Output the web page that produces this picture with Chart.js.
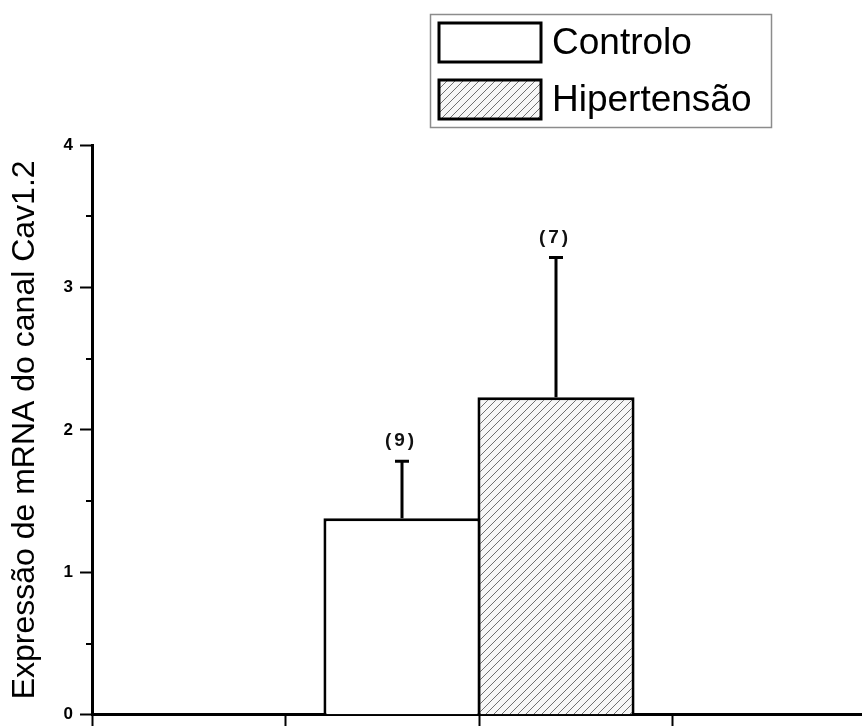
<!DOCTYPE html>
<html>
<head>
<meta charset="utf-8">
<script src="https://cdn.jsdelivr.net/npm/chart.js@4.4.1/dist/chart.umd.min.js"></script>
<style>
  html, body { margin: 0; padding: 0; background: #fff; overflow: hidden; }
  #wrap { width: 862px; height: 726px; overflow: hidden; position: relative; }
  canvas { display: block; }
</style>
</head>
<body>
<div id="wrap"><canvas id="c" width="870" height="732"></canvas></div>
<script>
// Groups, mean expression, error (SD) and sample size per group
const groups = ['Controlo', 'Hipertensão'];
const means = [1.38, 2.23];
const errors = [0.40, 0.98];
const sampleSizes = [9, 7];
// Both bars sit side by side around one position on the x axis
const groupX = [2, 2];
const xTicks = [0, 1, 2, 3, 4];
const yTicks = [0, 1, 2, 3, 4];
const yTitle = 'Expressão de mRNA do canal Cav1.2';

const FONT = "'Liberation Sans', Arial, Helvetica, sans-serif";

// Diagonal hatch fill
function makeHatch() {
  const s = 8;
  const p = document.createElement('canvas');
  p.width = s; p.height = s;
  const g = p.getContext('2d');
  g.fillStyle = '#f7f7f7';
  g.fillRect(0, 0, s, s);
  g.strokeStyle = '#707070';
  g.lineWidth = 1;
  g.beginPath();
  g.moveTo(0, s); g.lineTo(s, 0);
  g.moveTo(-2, 2); g.lineTo(2, -2);
  g.moveTo(s - 2, s + 2); g.lineTo(s + 2, s - 2);
  g.stroke();
  return g.createPattern(p, 'repeat');
}
const ctx = document.getElementById('c').getContext('2d');
const hatch = makeHatch();
const fills = ['#ffffff', hatch];

// Short minor ticks half-way between the labelled y ticks
const minorTicks = {
  id: 'minorTicks',
  afterDraw(chart) {
    const y = chart.scales.y;
    const left = chart.chartArea.left;
    const c = chart.ctx;
    c.save();
    c.strokeStyle = '#000';
    c.lineWidth = 2;
    for (let i = 0; i < yTicks.length - 1; i++) {
      const py = Math.round(y.getPixelForValue((yTicks[i] + yTicks[i + 1]) / 2));
      c.beginPath();
      c.moveTo(left - 6, py);
      c.lineTo(left, py);
      c.stroke();
    }
    c.restore();
  }
};

// Error bars with caps and the sample size above each one
const errorBars = {
  id: 'errorBars',
  afterDatasetsDraw(chart) {
    const c = chart.ctx;
    const yScale = chart.scales.y;
    c.save();
    chart.data.datasets.forEach((ds, i) => {
      const bar = chart.getDatasetMeta(i).data[0];
      const x = Math.round(bar.x);
      const yTop = yScale.getPixelForValue(means[i] + errors[i]);
      c.strokeStyle = '#000';
      c.lineWidth = 3;
      c.beginPath();
      c.moveTo(x, bar.y);
      c.lineTo(x, yTop);
      c.moveTo(x - 7, yTop);
      c.lineTo(x + 7, yTop);
      c.stroke();
      c.fillStyle = '#111';
      c.font = 'bold 19px ' + FONT;
      c.letterSpacing = '3px';
      c.textAlign = 'center';
      c.textBaseline = 'middle';
      c.fillText('(' + sampleSizes[i] + ')', x - 1, yTop - 20);
    });
    c.restore();
  }
};

// Framed legend in the upper right
const legendBox = {
  id: 'legendBox',
  afterDraw(chart) {
    const c = chart.ctx;
    const bx = 430, by = 14, bw = 341, bh = 113;
    c.save();
    c.strokeStyle = '#8c8c8c';
    c.lineWidth = 1.5;
    c.strokeRect(bx + 0.5, by + 0.5, bw, bh);
    chart.data.datasets.forEach((ds, i) => {
      const sx = bx + 9, sy = by + 9 + i * 57, sw = 102, sh = 39;
      c.fillStyle = ds.backgroundColor;
      c.fillRect(sx, sy, sw, sh);
      c.strokeStyle = '#000';
      c.lineWidth = 3;
      c.strokeRect(sx, sy, sw, sh);
      c.fillStyle = '#000';
      c.font = '37px ' + FONT;
      c.textAlign = 'left';
      c.textBaseline = 'middle';
      c.fillText(ds.label, sx + sw + 11, sy + sh / 2 + 1);
    });
    c.restore();
  }
};

new Chart(ctx, {
  type: 'bar',
  data: {
    datasets: groups.map((g, i) => ({
      label: g,
      data: [{ x: groupX[i], y: means[i] }],
      backgroundColor: fills[i],
      borderColor: '#000',
      borderWidth: 3,
      categoryPercentage: 1.592,
      barPercentage: 1.02
    }))
  },
  options: {
    responsive: false,
    animation: false,
    devicePixelRatio: 1,
    layout: { padding: { top: 145, right: 4, left: 0, bottom: 0 } },
    plugins: {
      legend: { display: false },
      tooltip: { enabled: false }
    },
    scales: {
      x: {
        type: 'linear',
        offset: false,
        min: xTicks[0],
        max: xTicks[xTicks.length - 1],
        afterBuildTicks(scale) { scale.ticks = xTicks.map(v => ({ value: v })); },
        ticks: { display: false },
        grid: { offset: false, drawOnChartArea: false, tickLength: 12, tickWidth: 2, tickColor: '#000' },
        border: { display: true, color: '#000', width: 3 }
      },
      y: {
        min: yTicks[0],
        max: yTicks[yTicks.length - 1],
        afterBuildTicks(scale) { scale.ticks = yTicks.map(v => ({ value: v })); },
        afterFit(scale) { scale.width = 92; },
        ticks: {
          color: '#000',
          padding: 7,
          font: { family: FONT, size: 17, weight: 'bold' }
        },
        grid: { drawOnChartArea: false, tickLength: 12, tickWidth: 2, tickColor: '#000' },
        border: { display: true, color: '#000', width: 3 },
        title: {
          display: true,
          text: yTitle,
          color: '#000',
          font: { family: FONT, size: 32 },
          padding: { top: 6, bottom: 0 }
        }
      }
    }
  },
  plugins: [minorTicks, errorBars, legendBox]
});
</script>
</body>
</html>
